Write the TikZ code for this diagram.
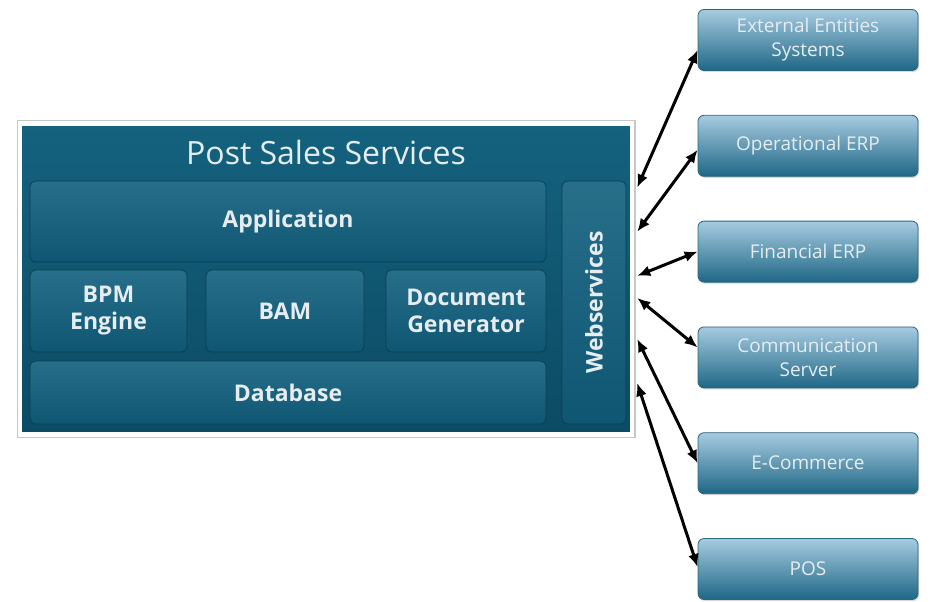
\documentclass[tikz,border=0pt]{standalone}
\usepackage{fontspec}
\setmainfont{Open Sans}
\usetikzlibrary{arrows.meta, positioning, shadows, calc}

\definecolor{deepteal}{HTML}{0F5673}
\definecolor{tealtop}{HTML}{14627F}
\definecolor{tealbot}{HTML}{0C4B64}
\definecolor{tealline}{HTML}{0A3F55}
\definecolor{skytop}{HTML}{A6CBE0}
\definecolor{skybot}{HTML}{1F6786}
\definecolor{skyline}{HTML}{2A6580}
\definecolor{paletext}{HTML}{E6EDF1}

\begin{document}
\begin{tikzpicture}[
    x=1pt, y=-1pt,
    node distance=44pt and 2cm,
    frame/.style={preaction={draw=black!22, line width=7pt},
        draw=white, line width=4.5pt,
        top color=tealtop, bottom color=tealbot,
        minimum width=612pt, minimum height=311pt, inner sep=0pt},
    layer/.style={draw=tealline, line width=0.8pt, rounded corners=6pt,
        top color=tealtop!92!white, bottom color=deepteal, text=paletext,
        font=\bfseries\fontsize{23}{27}\selectfont, align=center, inner sep=2pt},
    system/.style={draw=skyline, line width=0.8pt, rounded corners=6pt,
        top color=skytop, bottom color=skybot, text=paletext,
        font=\fontsize{19}{24}\selectfont, align=center,
        minimum width=220pt, minimum height=61pt,
        drop shadow={shadow xshift=1pt, shadow yshift=-1.5pt, opacity=0.3}},
    link/.style={<->, line width=3pt},
    >={Latex[length=13pt, width=11pt]} % Arrow style
]
\useasboundingbox (0,0) rectangle (942,602);

% Nodes
\node[frame] (PSS) at (326,279) {};
\node[text=paletext, font=\fontsize{32}{38}\selectfont] (TTL) at (326,152) {Post Sales Services};
\node[layer, minimum width=516pt, minimum height=81pt] (APP) at (288,221.5) {Application};
\node[layer, minimum width=157pt, minimum height=82pt] (BPM) at (108.5,311) {BPM\\Engine};
\node[layer, minimum width=158pt, minimum height=82pt] (BAM) at (285,311) {BAM};
\node[layer, minimum width=160pt, minimum height=82pt] (DOC) at (466,311) {Document\\Generator};
\node[layer, minimum width=516pt, minimum height=63pt] (DB) at (288,392.5) {Database};
\node[layer, rotate=90, minimum width=243pt, minimum height=64pt] (WS) at (594,302.5) {Webservices};

\node[system] (EES) at (808,40) {External Entities\\Systems};
\node[system, below=of EES] (OERP) {Operational ERP};
\node[system, below=of OERP] (FERP) {Financial ERP};
\node[system, below=of FERP] (CS) {Communication\\Server};
\node[system, below=of CS] (EC) {E-Commerce};
\node[system, below=of EC] (POS) {POS};

% Ends on the edge of the frame
\coordinate (w1) at ($(PSS.north east)!0.21!(PSS.south east)+(3,0)$);
\coordinate (w2) at ($(PSS.north east)!0.35!(PSS.south east)+(3,0)$);
\coordinate (w3) at ($(PSS.north east)!0.49!(PSS.south east)+(3,0)$);
\coordinate (w4) at ($(PSS.north east)!0.56!(PSS.south east)+(3,0)$);
\coordinate (w5) at ($(PSS.north east)!0.69!(PSS.south east)+(3,0)$);
\coordinate (w6) at ($(PSS.north east)!0.83!(PSS.south east)+(3,0)$);

% Arrows
\draw[link] (w1) -- ($(EES.west)+(0,10)$);
\draw[link] (w2) -- ($(OERP.west)+(0,4)$);
\draw[link] (w3) -- (FERP.west);
\draw[link] (w4) -- ($(CS.west)+(0,-10)$);
\draw[link] (w5) -- (EC.west);
\draw[link] (w6) -- ($(POS.west)+(0,-2)$);

\end{tikzpicture}
\end{document}
